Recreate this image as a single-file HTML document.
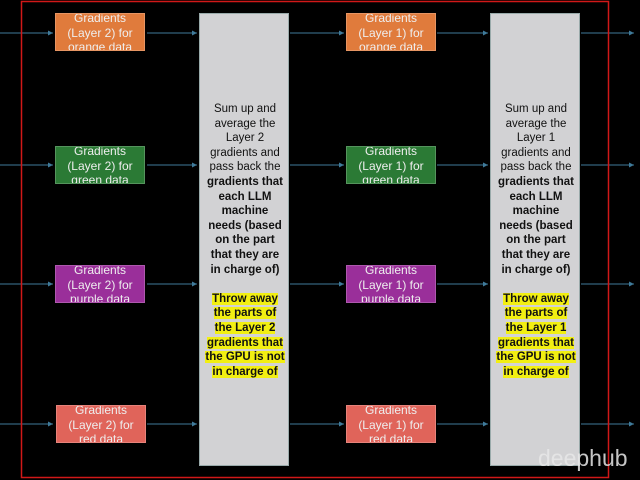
<!DOCTYPE html>
<html><head><style>
body{margin:0;width:640px;height:480px;background:#000;position:relative;overflow:hidden;font-family:"Liberation Sans",sans-serif}
.box{position:absolute;width:90px;height:38px;color:#eee;font-size:12px;line-height:14.5px;text-align:center;overflow:hidden;box-sizing:border-box;border:1px solid rgba(255,255,255,0.2);padding-top:0}
.box span{display:block;margin-top:-3px}
.col{position:absolute;top:13px;width:90px;height:453px;background:#d2d2d4;border:1px solid #9aa;box-sizing:border-box}
.txt{position:absolute;left:-10px;width:110px;top:88px;text-align:center;font-size:11.5px;line-height:14.6px;color:#111}
.b{font-weight:bold}
.hl{background:#f2ef12;font-weight:bold}
</style></head><body>
<svg width="640" height="480" style="position:absolute;left:0;top:0">
<defs><marker id="a" markerWidth="6" markerHeight="6" refX="5" refY="3" orient="auto"><path d="M0,0.5L5,3L0,5.5z" fill="#3f7a9a"/></marker></defs>
<g stroke="#3f7a9a" stroke-width="1" marker-end="url(#a)">
<line x1="0" y1="33" x2="53" y2="33"/><line x1="147" y1="33" x2="197" y2="33"/><line x1="290" y1="33" x2="344" y2="33"/><line x1="437" y1="33" x2="488" y2="33"/><line x1="581" y1="33" x2="634" y2="33"/>
<line x1="0" y1="165" x2="53" y2="165"/><line x1="147" y1="165" x2="197" y2="165"/><line x1="290" y1="165" x2="344" y2="165"/><line x1="437" y1="165" x2="488" y2="165"/><line x1="581" y1="165" x2="634" y2="165"/>
<line x1="0" y1="284" x2="53" y2="284"/><line x1="147" y1="284" x2="197" y2="284"/><line x1="290" y1="284" x2="344" y2="284"/><line x1="437" y1="284" x2="488" y2="284"/><line x1="581" y1="284" x2="634" y2="284"/>
<line x1="0" y1="424" x2="53" y2="424"/><line x1="147" y1="424" x2="197" y2="424"/><line x1="290" y1="424" x2="344" y2="424"/><line x1="437" y1="424" x2="488" y2="424"/><line x1="581" y1="424" x2="634" y2="424"/>
</g>
<rect x="21.5" y="1.5" width="587" height="476" fill="none" stroke="#d01818" stroke-width="1.5"/>
</svg>
<div class="box" style="left:55px;top:13px;background:#e07b3c"><span>Gradients<br>(Layer 2) for<br>orange data</span></div>
<div class="box" style="left:55px;top:146px;background:#2b7a35"><span>Gradients<br>(Layer 2) for<br>green data</span></div>
<div class="box" style="left:55px;top:265px;background:#9a2f9a"><span>Gradients<br>(Layer 2) for<br>purple data</span></div>
<div class="box" style="left:56px;top:405px;background:#e0645a"><span>Gradients<br>(Layer 2) for<br>red data</span></div>
<div class="box" style="left:346px;top:13px;background:#e07b3c"><span>Gradients<br>(Layer 1) for<br>orange data</span></div>
<div class="box" style="left:346px;top:146px;background:#2b7a35"><span>Gradients<br>(Layer 1) for<br>green data</span></div>
<div class="box" style="left:346px;top:265px;background:#9a2f9a"><span>Gradients<br>(Layer 1) for<br>purple data</span></div>
<div class="box" style="left:346px;top:405px;background:#e0645a"><span>Gradients<br>(Layer 1) for<br>red data</span></div>
<div class="col" style="left:199px"><div class="txt">Sum up and<br>average the<br>Layer 2<br>gradients and<br>pass back the<br><span class="b">gradients that<br>each LLM<br>machine<br>needs (based<br>on the part<br>that they are<br>in charge of)</span><br><br><span class="hl">Throw away<br>the parts of<br>the Layer 2<br>gradients that<br>the GPU is not<br>in charge of</span></div></div>
<div class="col" style="left:490px"><div class="txt">Sum up and<br>average the<br>Layer 1<br>gradients and<br>pass back the<br><span class="b">gradients that<br>each LLM<br>machine<br>needs (based<br>on the part<br>that they are<br>in charge of)</span><br><br><span class="hl">Throw away<br>the parts of<br>the Layer 1<br>gradients that<br>the GPU is not<br>in charge of</span></div></div>
<div style="position:absolute;left:538px;top:445px;font-size:23px;color:#e8e8e8;opacity:0.85">deephub</div>
</body></html>
